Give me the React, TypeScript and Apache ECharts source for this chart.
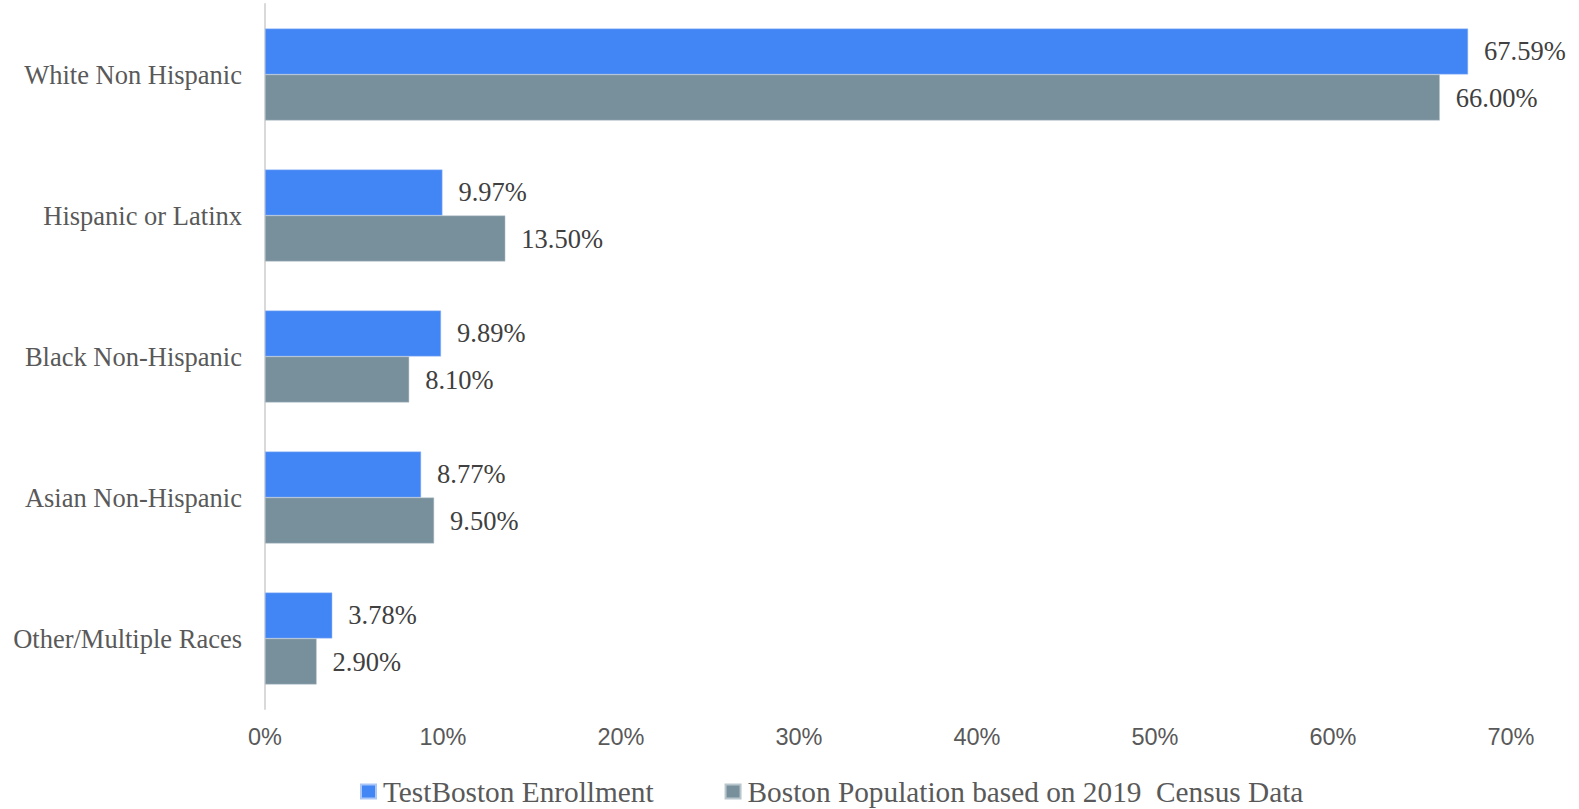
import React, { useEffect, useRef } from "react";
import * as echarts from "echarts";

const categories = [
  "White Non Hispanic",
  "Hispanic or Latinx",
  "Black Non-Hispanic",
  "Asian Non-Hispanic",
  "Other/Multiple Races",
];
const enrollment = [67.59, 9.97, 9.89, 8.77, 3.78];
const population = [66.0, 13.5, 8.1, 9.5, 2.9];
const xTicks = { min: 0, max: 70, step: 10 };
const seriesNames = [
  "TestBoston Enrollment",
  "Boston Population based on 2019  Census Data",
];

export default function App() {
  const ref = useRef<HTMLDivElement>(null);
  useEffect(() => {
    if (!ref.current) return;
    const chart = echarts.init(ref.current, undefined, { renderer: "svg" });
    const label = {
      show: true,
      position: "right" as const,
      distance: 16,
      fontFamily: "Liberation Serif",
      fontSize: 26.5,
      color: "#404040",
      formatter: (p: any) => p.value.toFixed(2) + "%",
    };
    chart.setOption({
      animation: false,
      grid: { left: 265, right: 68, top: 4, bottom: 100, containLabel: false },
      legend: {
        left: 360,
        top: 777,
        itemWidth: 15,
        itemHeight: 14,
        itemGap: 71,
        icon: "rect",
        padding: 0,
        textStyle: {
          fontFamily: "Liberation Serif",
          fontSize: 29.3,
          color: "#595959",
          padding: [0, 0, 0, 2],
        },
        data: seriesNames,
      },
      xAxis: {
        type: "value",
        min: xTicks.min,
        max: xTicks.max,
        interval: xTicks.step,
        axisLine: { show: false },
        axisTick: { show: false },
        splitLine: { show: false },
        axisLabel: {
          formatter: "{value}%",
          fontFamily: "Liberation Sans",
          fontSize: 23.5,
          color: "#595959",
          margin: 16,
        },
      },
      yAxis: {
        type: "category",
        inverse: true,
        data: categories,
        axisLine: { show: true, lineStyle: { color: "#d9d9d9", width: 2 } },
        axisTick: { show: false },
        axisLabel: {
          fontFamily: "Liberation Serif",
          fontSize: 26.5,
          color: "#595959",
          margin: 23,
        },
      },
      series: [
        {
          name: seriesNames[0],
          type: "bar",
          data: enrollment,
          barGap: "0%",
          barCategoryGap: "34.75%",
          itemStyle: { color: "#4285F4", borderColor: "#a9c6f7", borderWidth: 0.5 },
          label,
        },
        {
          name: seriesNames[1],
          type: "bar",
          data: population,
          itemStyle: { color: "#78909C", borderColor: "#b9c6cc", borderWidth: 0.5 },
          label,
        },
      ],
    });
    return () => chart.dispose();
  }, []);
  return (
    <div
      ref={ref}
      style={{ position: "fixed", left: 0, top: 0, width: 1579, height: 809, background: "#fff" }}
    />
  );
}
